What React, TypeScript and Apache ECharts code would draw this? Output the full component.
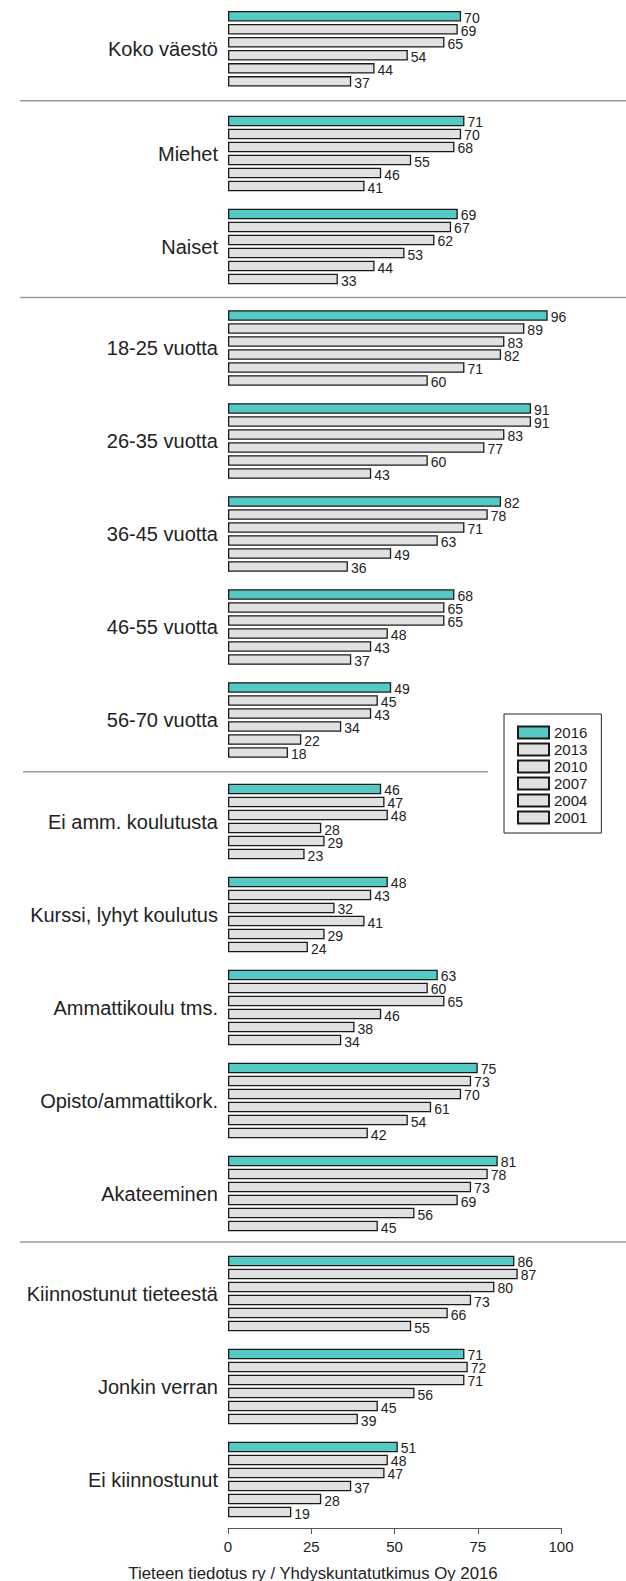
import React, { useEffect, useRef } from "react";
import * as echarts from "echarts";

const years = ["2016", "2013", "2010", "2007", "2004", "2001"];

const categories = [
  "Koko väestö",
  "Miehet",
  "Naiset",
  "18-25 vuotta",
  "26-35 vuotta",
  "36-45 vuotta",
  "46-55 vuotta",
  "56-70 vuotta",
  "Ei amm. koulutusta",
  "Kurssi, lyhyt koulutus",
  "Ammattikoulu tms.",
  "Opisto/ammattikork.",
  "Akateeminen",
  "Kiinnostunut tieteestä",
  "Jonkin verran",
  "Ei kiinnostunut",
];

// number of categories in each separated section
const sectionSizes = [1, 2, 5, 5, 3];

const v2016 = [70, 71, 69, 96, 91, 82, 68, 49, 46, 48, 63, 75, 81, 86, 71, 51];
const v2013 = [69, 70, 67, 89, 91, 78, 65, 45, 47, 43, 60, 73, 78, 87, 72, 48];
const v2010 = [65, 68, 62, 83, 83, 71, 65, 43, 48, 32, 65, 70, 73, 80, 71, 47];
const v2007 = [54, 55, 53, 82, 77, 63, 48, 34, 28, 41, 46, 61, 69, 73, 56, 37];
const v2004 = [44, 46, 44, 71, 60, 49, 43, 22, 29, 29, 38, 54, 56, 66, 45, 28];
const v2001 = [37, 41, 33, 60, 43, 36, 37, 18, 23, 24, 34, 42, 45, 55, 39, 19];

const seriesValues = [v2016, v2013, v2010, v2007, v2004, v2001];

const xTicks = [0, 25, 50, 75, 100];

const caption = "Tieteen tiedotus ry / Yhdyskuntatutkimus Oy 2016";

const FONT = "'Liberation Sans', Arial, Helvetica, sans-serif";
const TEAL = "#55c9c3";
const GRAY = "#e1e1e1";

export default function App() {
  const ref = useRef<HTMLDivElement>(null);

  useEffect(() => {
    document.body.style.margin = "0";
    if (!ref.current) return;
    const chart = echarts.init(ref.current, undefined, { renderer: "svg" });

    const gridTops = [2.3, 107, 301.5, 775, 1247];
    const band = 93;
    const grids: any[] = [];
    const xAxes: any[] = [];
    const yAxes: any[] = [];
    const series: any[] = [];

    let start = 0;
    sectionSizes.forEach((n, gi) => {
      const cats = categories.slice(start, start + n);
      grids.push({
        left: 228,
        width: 333,
        top: gridTops[gi],
        height: n * band,
        containLabel: false,
      });
      const last = gi === sectionSizes.length - 1;
      xAxes.push({
        type: "value",
        gridIndex: gi,
        min: 0,
        max: 100,
        interval: 25,
        show: last,
        offset: 2,
        splitLine: { show: false },
        axisLine: { show: last, lineStyle: { color: "#555", width: 1 } },
        axisTick: { show: last, length: 6, lineStyle: { color: "#555" } },
        axisLabel: {
          show: last,
          margin: 11,
          fontSize: 15,
          color: "#222",
          fontFamily: FONT,
          formatter: (v: number) => (xTicks.includes(v) ? String(v) : ""),
        },
      });
      yAxes.push({
        type: "category",
        gridIndex: gi,
        data: cats,
        inverse: true,
        axisLine: { show: false },
        axisTick: { show: false },
        axisLabel: {
          margin: 10,
          fontSize: 20,
          color: "#222",
          fontFamily: FONT,
        },
      });
      years.forEach((y, si) => {
        series.push({
          type: "bar",
          name: y,
          xAxisIndex: gi,
          yAxisIndex: gi,
          data: seriesValues[si].slice(start, start + n),
          barWidth: 10.5,
          barGap: "24%",
          itemStyle: {
            color: si === 0 ? TEAL : GRAY,
            borderColor: "#1a1a1a",
            borderWidth: 1.3,
          },
          label: {
            show: true,
            position: "right",
            distance: 3,
            offset: [0, 1.5],
            fontSize: 14,
            color: "#222",
            fontFamily: FONT,
          },
        });
      });
      start += n;
    });

    const sepColor = "#9a9a9a";
    const graphic: any[] = [
      { type: "line", shape: { x1: 20, y1: 100.7, x2: 626, y2: 100.7 }, style: { stroke: sepColor, lineWidth: 1.5 } },
      { type: "line", shape: { x1: 20, y1: 297.5, x2: 626, y2: 297.5 }, style: { stroke: sepColor, lineWidth: 1.5 } },
      { type: "line", shape: { x1: 23, y1: 771.7, x2: 488, y2: 771.7 }, style: { stroke: sepColor, lineWidth: 1.5 } },
      { type: "line", shape: { x1: 20, y1: 1242, x2: 626, y2: 1242 }, style: { stroke: sepColor, lineWidth: 1.5 } },
      {
        type: "text",
        x: 313,
        y: 1573,
        style: {
          text: caption,
          fontSize: 16.8,
          fontFamily: FONT,
          fill: "#222",
          textAlign: "center",
          textVerticalAlign: "middle",
        },
      },
    ];

    chart.setOption({
      animation: false,
      backgroundColor: "#fff",
      grid: grids,
      xAxis: xAxes,
      yAxis: yAxes,
      series,
      legend: {
        data: years,
        orient: "vertical",
        left: 504,
        top: 714,
        padding: [11, 14, 8, 13],
        borderColor: "#222",
        borderWidth: 1,
        itemWidth: 31,
        itemHeight: 12,
        itemGap: 2,
        icon: "rect",
        selectedMode: false,
        textStyle: { fontSize: 15, color: "#222", fontFamily: FONT, lineHeight: 12, padding: [0, 0, 0, 0] },
      },
      graphic,
    });

    return () => chart.dispose();
  }, []);

  return <div ref={ref} style={{ width: 626, height: 1581 }} />;
}
